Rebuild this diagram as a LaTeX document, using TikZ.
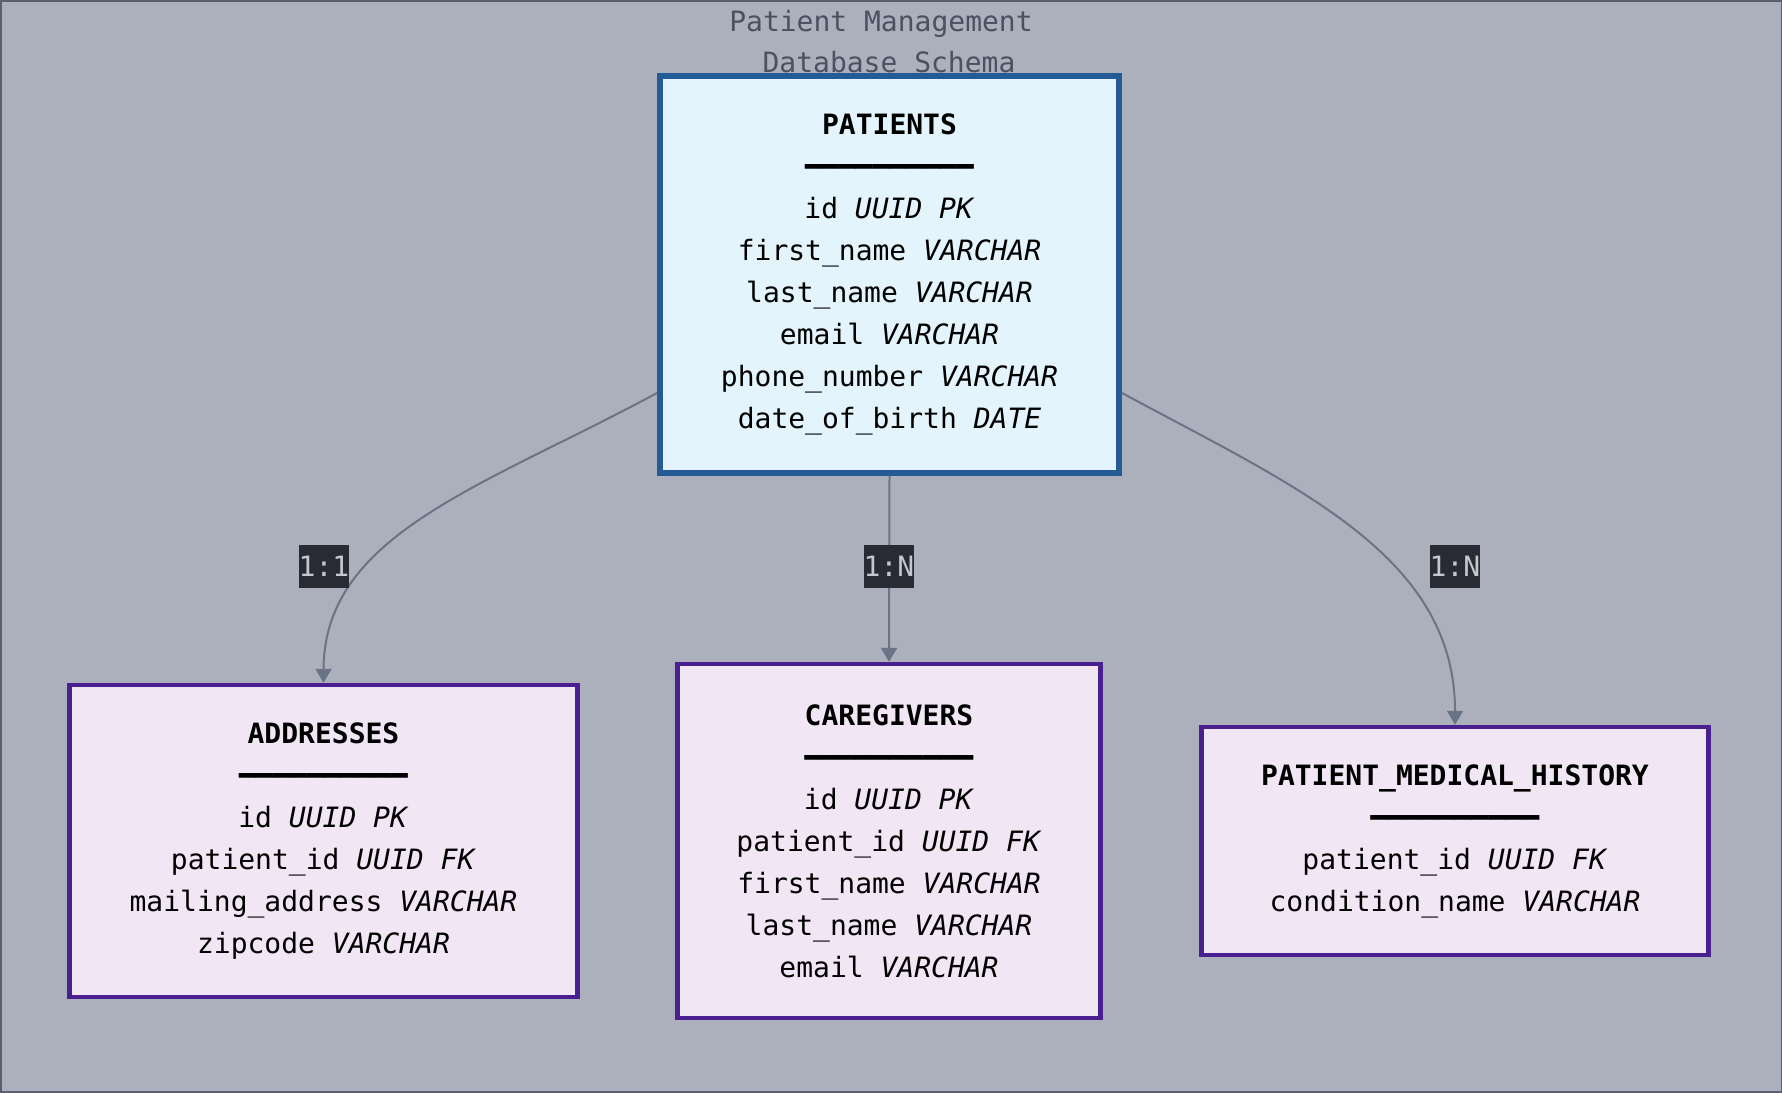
\documentclass[tikz,border=0pt]{standalone}
\usepackage{fontspec}
\setmonofont{DejaVu Sans Mono}
\usetikzlibrary{arrows.meta}
\definecolor{bg}{HTML}{ABB0BC}
\definecolor{framec}{HTML}{5A6070}
\definecolor{titlec}{HTML}{4A5262}
\definecolor{pfill}{HTML}{E3F4FC}
\definecolor{pborder}{HTML}{245B97}
\definecolor{efill}{HTML}{F0E6F4}
\definecolor{eborder}{HTML}{4A2090}
\definecolor{edgec}{HTML}{6B7386}
\definecolor{lblbg}{HTML}{282B33}
\definecolor{lbltext}{HTML}{C3C7CF}
\newcommand\hrul{\textbf{━━━━━━━━━━}}
\tikzset{
  tbl/.style={draw, align=center, inner sep=0pt, text=black},
  ptbl/.style={tbl, fill=pfill, draw=pborder, line width=2.8pt},
  etbl/.style={tbl, fill=efill, draw=eborder, line width=2.2pt},
  lbl/.style={fill=lblbg, text=lbltext, inner sep=0pt, minimum height=21.5pt, minimum width=25pt},
  conn/.style={draw=edgec, line width=1pt, -{Triangle[width=8pt,length=7pt]}},
  ttl/.style={text=titlec, inner sep=0pt}
}
\begin{document}
\begin{tikzpicture}[x=0.5pt,y=-0.5pt,font=\ttfamily\fontsize{14}{21}\selectfont]
\useasboundingbox (0,0) rectangle (1782,1092);
\fill[bg] (0,0) rectangle (1782,1092);
\draw[framec, line width=1pt] (0.5,0.5) rectangle (1781.5,1091.5);

\node[ttl] (t1) at (881,23.5) {Patient Management};
\node[ttl] (t2) at (889,62) {Database Schema};

\node[ptbl, minimum width=229.5pt, minimum height=198.5pt] (P) at (889.5,274.5) {%
\textbf{PATIENTS}\\ \hrul\\
id \textit{UUID PK}\\
first\_name \textit{VARCHAR}\\
last\_name \textit{VARCHAR}\\
email \textit{VARCHAR}\\
phone\_number \textit{VARCHAR}\\
date\_of\_birth \textit{DATE}};

\node[etbl, minimum width=254pt, minimum height=156pt] (A) at (323.5,841) {%
\textbf{ADDRESSES}\\ \hrul\\
id \textit{UUID PK}\\
patient\_id \textit{UUID FK}\\
mailing\_address \textit{VARCHAR}\\
zipcode \textit{VARCHAR}};

\node[etbl, minimum width=211.5pt, minimum height=177pt] (C) at (889,841) {%
\textbf{CAREGIVERS}\\ \hrul\\
id \textit{UUID PK}\\
patient\_id \textit{UUID FK}\\
first\_name \textit{VARCHAR}\\
last\_name \textit{VARCHAR}\\
email \textit{VARCHAR}};

\node[etbl, minimum width=253.5pt, minimum height=114pt] (H) at (1455,841) {%
\textbf{PATIENT\_MEDICAL\_HISTORY}\\ \hrul\\
patient\_id \textit{UUID FK}\\
condition\_name \textit{VARCHAR}};

\draw[conn] (P.207.6) .. controls (483,487) and (324,534) .. (A.north);
\draw[conn] (P.south) -- (C.north);
\draw[conn] (P.-27.6) .. controls (1296,487) and (1455,555) .. (H.north);

\node[lbl] (l1) at (324,566) {1:1};
\node[lbl] (l2) at (889,566) {1:N};
\node[lbl] (l3) at (1455,566) {1:N};
\end{tikzpicture}
\end{document}
